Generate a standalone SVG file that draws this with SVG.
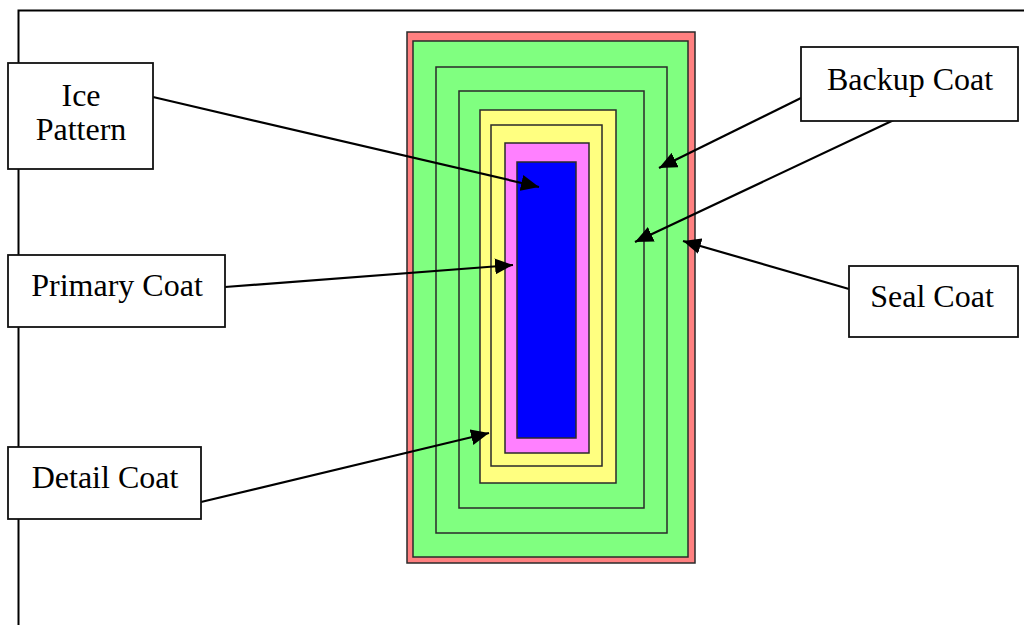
<svg xmlns="http://www.w3.org/2000/svg" width="1024" height="625" viewBox="0 0 1024 625">
<style>
.box{fill:#fff;stroke:#111;stroke-width:1.8}
.lbl{font-family:"Liberation Serif","Times New Roman",serif;font-size:32px;fill:#000;text-anchor:middle}
.layer{stroke:#2a2a2a;stroke-width:1.5}
.con{stroke:#000;stroke-width:2.2;fill:none}
</style>
<defs>
<marker id="ah" markerUnits="userSpaceOnUse" markerWidth="20" markerHeight="16" refX="18" refY="8" orient="auto">
<path d="M0,0 L18,8 L0,16 Z" fill="#000"/>
</marker>
</defs>
<rect width="1024" height="625" fill="#fff"/>
<g id="frame">
<path d="M18.5,625 V10.5 H1024" fill="none" stroke="#000" stroke-width="2"/>
</g>
<g id="layers">
<rect class="layer" x="407" y="32" width="288" height="531" fill="#FF8080"/>
<rect class="layer" x="413" y="41" width="275" height="516" fill="#80FF80"/>
<rect class="layer" x="436" y="67" width="231" height="466" fill="#80FF80"/>
<rect class="layer" x="459" y="91" width="185" height="417" fill="#80FF80"/>
<rect class="layer" x="480" y="110" width="136" height="373" fill="#FFFF80"/>
<rect class="layer" x="491" y="125" width="111" height="341" fill="#FFFF80"/>
<rect class="layer" x="505" y="143" width="84" height="310" fill="#FF80FF"/>
<rect class="layer" x="517" y="162" width="59" height="276" fill="#0000FF"/>
</g>
<g id="connectors">
<line class="con" x1="153" y1="97" x2="539" y2="187" marker-end="url(#ah)"/>
<line class="con" x1="225" y1="287" x2="513" y2="265" marker-end="url(#ah)"/>
<line class="con" x1="201" y1="502" x2="489" y2="433" marker-end="url(#ah)" stroke-width="2.8"/>
<line class="con" x1="801" y1="98" x2="659" y2="168" marker-end="url(#ah)"/>
<line class="con" x1="896" y1="119" x2="635" y2="242" marker-end="url(#ah)"/>
<line class="con" x1="849" y1="289" x2="683" y2="241" marker-end="url(#ah)"/>
</g>
<g id="ice-pattern">
<rect class="box" x="8" y="63" width="145" height="106"/>
<text class="lbl" x="81" y="106">Ice</text>
<text class="lbl" x="81" y="140">Pattern</text>
</g>
<g id="primary-coat">
<rect class="box" x="8" y="255" width="217" height="72"/>
<text class="lbl" x="117" y="296">Primary Coat</text>
</g>
<g id="detail-coat">
<rect class="box" x="8" y="447" width="193" height="72"/>
<text class="lbl" x="105" y="488">Detail Coat</text>
</g>
<g id="backup-coat">
<rect class="box" x="801" y="47" width="217" height="74"/>
<text class="lbl" x="910" y="90">Backup Coat</text>
</g>
<g id="seal-coat">
<rect class="box" x="849" y="266" width="169" height="71"/>
<text class="lbl" x="932" y="307">Seal Coat</text>
</g>
</svg>
